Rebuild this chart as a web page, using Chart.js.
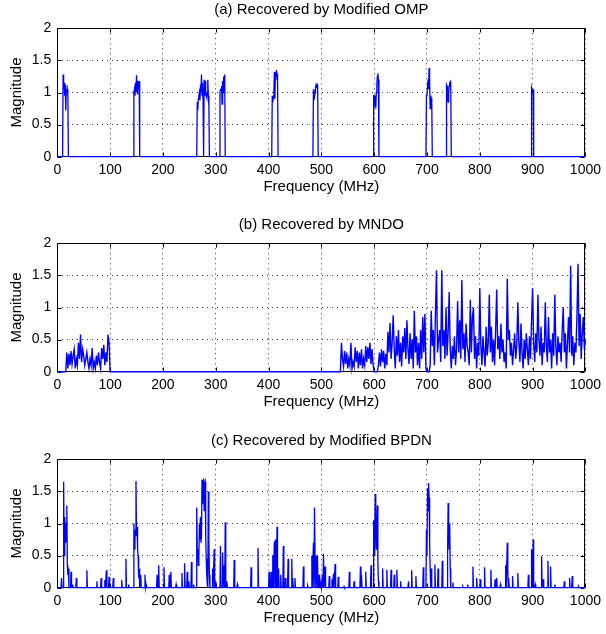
<!DOCTYPE html>
<html>
<head>
<meta charset="utf-8">
<script src="https://cdn.jsdelivr.net/npm/chart.js@4.4.1/dist/chart.umd.min.js"></script>
<style>
  body { margin: 0; background: #fff; width: 606px; height: 634px; position: relative; overflow: hidden; }
  .panel { position: absolute; left: 0; width: 606px; height: 200px; }
</style>
</head>
<body>
<div class="panel" style="top:0px"><canvas id="chartA" width="606" height="200"></canvas></div>
<div class="panel" style="top:215px"><canvas id="chartB" width="606" height="200"></canvas></div>
<div class="panel" style="top:431px"><canvas id="chartC" width="606" height="200"></canvas></div>
<script>
// axis ticks
const xTicks = [0, 100, 200, 300, 400, 500, 600, 700, 800, 900, 1000];
const yTicks = [0, 0.5, 1, 1.5, 2];

// (a) modified OMP: occupied bands, 1 MHz samples from each start frequency
const ompStarts = [11, 145, 265, 308, 407, 485, 599, 699, 737, 898];
const ompMags = [
  [1.28, 1.05, 1.15, 0.95, 1.12, 0.72, 1.05, 1.0, 1.05, 0.95],
  [1.0, 1.05, 0.95, 1.15, 1.0, 1.27, 1.1, 0.97, 1.18, 1.05, 1.18],
  [0.85, 0.72, 0.9, 0.95, 1.0, 0.88, 1.05, 1.0, 1.28, 0.95, 1.15, 0.9, 0, 1.2, 0.95, 1.18, 1.0, 0.95, 0.92, 1.0, 1.2, 0.95, 0.8],
  [1.0, 1.05, 1.05, 1.1, 0.82, 1.18, 1.0, 1.25, 1.05, 1.28],
  [0.95, 0.85, 0.92, 0.95, 1.32, 0.9, 1.3, 1.25, 1.35, 1.2, 1.3],
  [1.05, 0.95, 0.92, 1.0, 1.08, 1.12, 1.1, 1.12, 1.05],
  [0.95, 0.95, 0.78, 0.95, 0.75, 1.0, 1.1, 1.25, 1.3, 1.2],
  [0.95, 0.97, 1.08, 1.2, 1.05, 1.38, 1.2, 0.75, 0.95, 0.9, 0.92],
  [1.12, 1.1, 0.9, 0.85, 0.95, 1.1, 1.15, 1.17, 1.12],
  [1.08, 1.05, 1.0, 1.05]
];

// (b) MNDO: two noisy stretches sampled every 2 MHz
const mndoStep = 2;
const mndoLowStart = 18;
const mndoLowMags = [
  0.3, 0.05, 0.28, 0.1, 0.32, 0.12, 0.25, 0.35, 0.05, 0.2,
  0.1, 0.45, 0.2, 0.58, 0.15, 0.35, 0.25, 0.1, 0.2, 0.3,
  0.15, 0.05, 0.2, 0.1, 0.37, 0.05, 0.15, 0.05, 0.25, 0.1,
  0.3, 0.15, 0.05, 0.37, 0.2, 0.42, 0.1, 0.3, 0.15, 0.58, 0.45
];
const mndoHighStart = 538;
const mndoHighMags = [
  0.45, 0.2, 0.08, 0.32, 0.12, 0.3, 0.05, 0.2, 0.1, 0.45,
  0.05, 0.15, 0.08, 0.38, 0.15, 0.32, 0.05, 0.3, 0.1, 0.35,
  0.05, 0.2, 0.1, 0.4, 0.15, 0.38, 0.2, 0.45, 0.12, 0.35,
  0.1, 0, 0, 0, 0, 0.1, 0.3, 0.08, 0.35, 0.15,
  0.32, 0.05, 0.28, 0.1, 0.62, 0.3, 0.76, 0.2, 0.45, 0.88,
  0.35, 0.05, 0.55, 0.25, 0.65, 0.15, 0.45, 0.08, 0.55, 0.3,
  0.68, 0.2, 0.8, 0.35, 0.12, 0.6, 0.2, 0.5, 0.05, 0.95,
  0.3, 0.55, 0.1, 0.45, 0.05, 0.65, 0.2, 0.85, 0.3, 0.9,
  0.05, 0, 0, 0, 0.1, 0.95, 0.4, 0.65, 0.1, 0.9,
  1.58, 0.3, 0.5, 0.65, 0.15, 1.58, 0.4, 0.65, 0.2, 1.0,
  0.25, 0.6, 1.24, 0.35, 0.05, 0.4, 0.2, 0.55, 0.1, 0.35,
  1.1, 0.3, 0.8, 0.2, 1.43, 0.35, 0.6, 0.15, 0.75, 0.4,
  0.3, 0.1, 1.12, 0.3, 0.85, 1.0, 0.2, 0.55, 0.05, 0.45,
  0.25, 1.3, 0.4, 0.1, 0.55, 0.3, 0.08, 0.7, 0.25, 0.45,
  1.2, 0.3, 0.7, 0.15, 0.5, 0.1, 0.65, 1.28, 0.35, 0.55,
  0.2, 0.75, 0.3, 0.5, 0.15, 0.3, 0.05, 1.45, 0.5, 0.65,
  0.25, 0.45, 0.1, 0.35, 0.6, 0.2, 0.4, 1.08, 0.45, 0.15,
  0.75, 0.3, 0.05, 0.5, 0.2, 0.6, 0.35, 0.1, 0.55, 0.2,
  0.8, 1.3, 0.45, 0.15, 0.6, 0.3, 1.2, 0.5, 0.25, 0.7,
  0.1, 0.45, 0.3, 1.08, 0.4, 0.15, 0.85, 0.3, 0.5, 0.05,
  0.6, 0.25, 1.2, 0.4, 0.1, 0.55, 0.3, 0.45, 0.15, 0.65,
  1.0, 0.3, 0.6, 0.05, 0.45, 0.85, 0.3, 1.65, 0.25, 0.55,
  0.1, 0.45, 0.3, 0.9, 1.68, 0.4, 0.9, 0.2, 0.6, 0.85,
  0.35, 0.5
];

// (c) modified BPDN: sparse spikes, 1 MHz resolution
const bpdnFreqs = [
  8, 12, 13, 14, 15, 16, 17, 18, 19, 20, 21, 26, 29, 36, 56, 75, 83, 90, 93, 98,
  106, 122, 130, 135, 145, 146, 147, 148, 149, 150, 151, 152, 153, 154, 155, 158, 166, 168, 189, 192,
  202, 212, 215, 225, 236, 241, 246, 249, 254, 258,
  264, 265, 266, 267, 268, 269, 270, 271, 272, 273, 274, 275, 276, 277, 278, 279, 280, 281, 282, 283, 284, 286, 287, 288,
  294, 297, 300, 309, 313, 316, 318, 321, 335, 341, 367, 380,
  401, 405, 408, 411, 413, 416, 419, 423, 428, 432, 437, 444, 446, 450, 466, 474,
  482, 485, 487, 488, 490, 491, 493, 495, 497, 499, 502, 504, 507, 515, 520, 523, 526, 532, 543, 553,
  562, 574, 576, 584, 594, 599, 600, 601, 602, 603, 604, 605, 606, 607, 608, 616, 624, 632, 638, 643,
  650, 665, 671, 679, 693, 699, 700, 701, 702, 703, 704, 705, 706, 708, 715, 721, 729, 739, 740, 741,
  742, 743, 744, 749, 768, 777, 787, 794, 801, 809, 821, 829, 832, 839, 849, 852, 853, 855, 862, 872,
  892, 898, 899, 901, 905, 917, 920, 929, 934, 942, 960, 970, 975, 987
];
const bpdnMags = [
  0.15, 1.65, 0.5, 1.1, 0.9, 0.7, 1.0, 1.28, 0.35, 0.2, 0.3, 0.25, 0.05, 0.15, 0.27, 0.1, 0.15, 0.12, 0.27, 0.17,
  0.15, 0.12, 0.45, 0.05, 1.0, 0.6, 0.75, 0.9, 1.66, 0.8, 0.95, 0.6, 0.5, 0.15, 0.3, 0.2, 0.2, 0.05, 0.2, 0.35,
  0.32, 0.2, 0.25, 0.05, 0.23, 0.38, 0.25, 0.1, 0.4, 0.05,
  1.25, 0.6, 0.55, 0.35, 0.4, 1.0, 0.75, 1.1, 0.7, 0.8, 1.68, 1.3, 1.65, 1.7, 1.2, 1.62, 1.65, 0.8, 0.45, 0.2, 0.05, 1.5, 0.7, 0.2,
  0.3, 0.6, 0.1, 0.65, 0.55, 0.35, 1.02, 0.1, 0.43, 0.05, 0.32, 0.62,
  0.25, 0.25, 0.5, 0.72, 0.75, 0.95, 0.3, 0.2, 0.65, 0.15, 0.45, 0.45, 0.15, 0.15, 0.33, 0.03,
  0.5, 0.7, 1.25, 0.5, 0.5, 0.25, 0.5, 0.2, 0.2, 0.1, 0.2, 0.53, 0.33, 0.18, 0.13, 0.22, 0.37, 0.17, 0.02, 0.25,
  0.1, 0.33, 0.2, 0.25, 0.35, 1.05, 0.5, 0.8, 1.46, 0.9, 0.6, 0.9, 1.28, 0.4, 0.1, 0.3, 0.28, 0.28, 0.2, 0.28,
  0.1, 0.1, 0.27, 0.18, 0.32, 0.9, 0.5, 1.55, 1.2, 1.63, 1.4, 0.7, 0.3, 0.3, 0.36, 0.3, 0.42, 0.5, 1.32, 0.9,
  0.6, 1.0, 0.3, 0.08, 0.02, 0.05, 0.33, 0.15, 0.13, 0.32, 0.28, 0.13, 0.15, 0.05, 0.35, 0.7, 0.3, 0.15, 0.18, 0.23,
  0.2, 0.6, 0.4, 0.75, 0.05, 0.49, 0.13, 0.42, 0.33, 0.05, 0.1, 0.15, 0.18, 0.02
];

// line points: signal sits on zero wherever no sample is listed
function withBaseline(freqs, mags, step) {
  const pts = [{ x: 0, y: 0 }];
  let prev = null;
  freqs.forEach((f, i) => {
    if (prev !== null && f - prev > step) pts.push({ x: prev + step, y: 0 });
    if ((prev === null && f > step) || (prev !== null && f - prev > step)) pts.push({ x: f - step, y: 0 });
    pts.push({ x: f, y: mags[i] });
    prev = f;
  });
  if (prev < 1000) {
    pts.push({ x: prev + step, y: 0 });
    pts.push({ x: 1000, y: 0 });
  }
  return pts;
}

const ompF = [], ompM = [];
ompStarts.forEach((s, b) => ompMags[b].forEach((m, i) => { ompF.push(s + i); ompM.push(m); }));

const mndoF = [], mndoM = [];
mndoLowMags.forEach((m, i) => { mndoF.push(mndoLowStart + i * mndoStep); mndoM.push(m); });
mndoHighMags.forEach((m, i) => { mndoF.push(mndoHighStart + i * mndoStep); mndoM.push(m); });

const FONT = "'Liberation Sans', Arial, Helvetica, sans-serif";

// MATLAB-like axes box with inward ticks on all four sides
const boxPlugin = {
  id: 'box',
  beforeDatasetsDraw(chart) {
    const { ctx, chartArea: a, scales } = chart;
    const L = Math.round(a.left) + 0.5, R = Math.round(a.right) - 0.5;
    const T = Math.round(a.top) + 0.5, B = Math.round(a.bottom) - 0.5;
    const len = 4;
    ctx.save();
    ctx.strokeStyle = '#000';
    ctx.lineWidth = 1;
    ctx.strokeRect(L, T, R - L, B - T);
    ctx.beginPath();
    xTicks.forEach(v => {
      const x = Math.round(scales.x.getPixelForValue(v)) + 0.5;
      ctx.moveTo(x, B); ctx.lineTo(x, B - len);
      ctx.moveTo(x, T); ctx.lineTo(x, T + len);
    });
    yTicks.forEach(v => {
      const y = Math.round(scales.y.getPixelForValue(v)) + 0.5;
      ctx.moveTo(L, y); ctx.lineTo(L + len, y);
      ctx.moveTo(R, y); ctx.lineTo(R - len, y);
    });
    ctx.stroke();
    ctx.restore();
  }
};

function makePanel(id, title, points, lineWidth) {
  return new Chart(document.getElementById(id), {
    type: 'line',
    data: {
      datasets: [{
        data: points,
        borderColor: '#0000ff',
        borderWidth: lineWidth,
        pointRadius: 0,
        tension: 0,
        fill: false,
        clip: false
      }]
    },
    options: {
      responsive: false,
      animation: false,
      layout: { padding: 0 },
      plugins: {
        legend: { display: false },
        tooltip: { enabled: false },
        title: {
          display: true,
          fullSize: false,
          text: title,
          color: '#000',
          font: { family: FONT, size: 15, weight: 'normal', lineHeight: 1.2 },
          padding: { top: 1, bottom: 9.3 }
        }
      },
      scales: {
        x: {
          type: 'linear',
          min: 0,
          max: 1000,
          afterBuildTicks: s => { s.ticks = xTicks.map(v => ({ value: v })); },
          afterFit: s => { s.height = 43.3; },
          ticks: {
            callback: v => String(v),
            color: '#000',
            font: { family: FONT, size: 14 },
            padding: 5,
            maxRotation: 0,
            autoSkip: false
          },
          grid: { color: '#333', lineWidth: 1, drawTicks: false },
          border: { display: false, dash: [1, 4] },
          title: {
            display: true,
            text: 'Frequency (MHz)',
            color: '#000',
            font: { family: FONT, size: 15 },
            padding: { top: 0, bottom: 4.5 }
          }
        },
        y: {
          type: 'linear',
          min: 0,
          max: 2,
          afterBuildTicks: s => { s.ticks = yTicks.map(v => ({ value: v })); },
          afterFit: s => { s.width = 57.3; },
          ticks: {
            callback: v => String(v),
            color: '#000',
            font: { family: FONT, size: 14 },
            padding: 6
          },
          grid: { color: '#333', lineWidth: 1, drawTicks: false },
          border: { display: false, dash: [1, 4] },
          title: {
            display: true,
            text: 'Magnitude',
            color: '#000',
            font: { family: FONT, size: 15 },
            padding: { top: 8, bottom: 0 }
          }
        }
      }
    },
    plugins: [boxPlugin]
  });
}

makePanel('chartA', '(a) Recovered by Modified OMP', withBaseline(ompF, ompM, 1), 1.3);
makePanel('chartB', '(b) Recovered by MNDO', withBaseline(mndoF, mndoM, mndoStep), 1.4);
makePanel('chartC', '(c) Recovered by Modified BPDN', withBaseline(bpdnFreqs, bpdnMags, 1), 1.3);
</script>
</body>
</html>
